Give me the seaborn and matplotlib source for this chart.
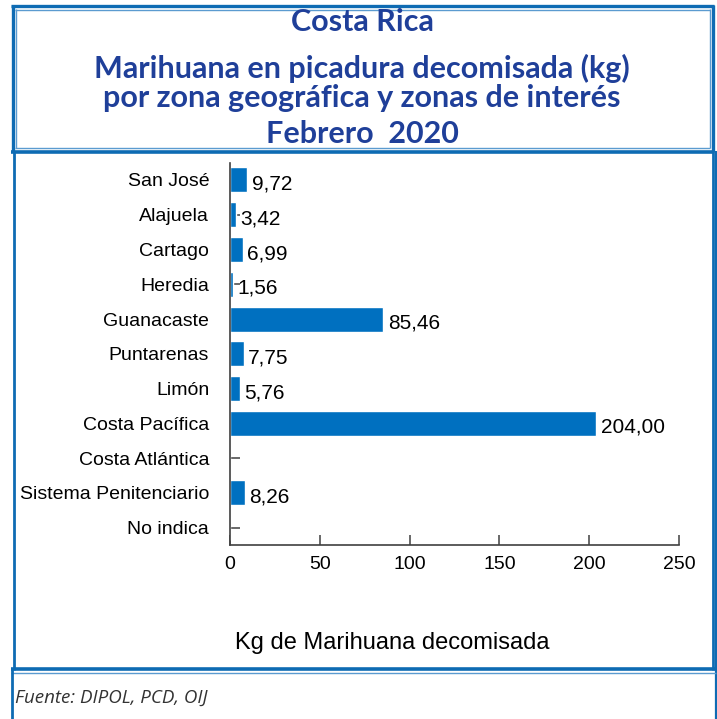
import matplotlib
matplotlib.use("Agg")
import matplotlib.pyplot as plt
from matplotlib.lines import Line2D
import seaborn as sns
import pandas as pd

categories = ["San José", "Alajuela", "Cartago", "Heredia", "Guanacaste", "Puntarenas",
              "Limón", "Costa Pacífica", "Costa Atlántica", "Sistema Penitenciario", "No indica"]
values = [9.72, 3.42, 6.99, 1.56, 85.46, 7.75, 5.76, 204.00, 0.0, 8.26, 0.0]
value_labels = ["9,72", "3,42", "6,99", "1,56", "85,46", "7,75", "5,76", "204,00", "", "8,26", ""]
xticks = [0, 50, 100, 150, 200, 250]

title_lines = ["Costa Rica", "Marihuana en picadura decomisada (kg)",
               "por zona geográfica y zonas de interés", "Febrero  2020"]
xlabel = "Kg de Marihuana decomisada"
source = "Fuente: DIPOL, PCD, OIJ"

sns.set_theme(style="white")
plt.rcParams['font.family'] = ['Liberation Sans', 'DejaVu Sans']

W, H = 717, 719
fig = plt.figure(figsize=(W / 100, H / 100), dpi=100)
fig.patch.set_facecolor("white")

ax = fig.add_axes([230 / W, 1 - 545 / H, 449 / W, (545 - 162.6) / H])
df = pd.DataFrame({"cat": categories, "val": values})
sns.barplot(data=df, x="val", y="cat", orient="h", color="#0070C0", saturation=1,
            width=0.72, ax=ax)
ax.set_xlim(0, 250)
ax.set_xticks(xticks)
ax.set_xticklabels([str(t) for t in xticks])
ax.set_ylim(len(categories) - 0.5, -0.5)
ax.set_ylabel("")
ax.set_xlabel("")
for s in ["top", "right"]:
    ax.spines[s].set_visible(False)
for s in ["left", "bottom"]:
    ax.spines[s].set_color("#404040")
    ax.spines[s].set_linewidth(1.2)
ax.tick_params(axis="x", bottom=True, direction="in", length=7, width=1.1, color="#404040",
               labelsize=14, pad=8, labelcolor="black")
ax.tick_params(axis="y", left=True, direction="in", length=7, width=1.1, color="#404040",
               labelsize=14, pad=15, labelcolor="black")

for patch, lab in zip(ax.patches, value_labels):
    if not lab:
        continue
    x = patch.get_x() + patch.get_width()
    y = patch.get_y() + patch.get_height() / 2
    ax.annotate(lab, (x, y), xytext=(3, -3), textcoords="offset points",
                ha="left", va="center", fontsize=15, color="black")

fig.text(392 / W, 1 - 643 / H, xlabel, ha="center", va="center", fontsize=17, color="black")

title_color = "#1F3F99"
title_y = [22, 68, 98, 134]
for t, yy in zip(title_lines, title_y):
    fig.text(362 / W, 1 - yy / H, t, ha="center", va="center", fontsize=22,
             fontweight="bold", color=title_color, family=["Lato", "DejaVu Sans"])

fig.text(15 / W, 1 - 698 / H, source, ha="left", va="center", fontsize=13.5,
         style="italic", color="#333333", family=["Open Sans", "DejaVu Sans"])

frame = "#0E6BB3"
light = "#5B9BD0"

def hline(x0, x1, y, lw, c):
    fig.add_artist(Line2D([x0 / W, x1 / W], [1 - y / H, 1 - y / H], lw=lw, color=c,
                          transform=fig.transFigure, solid_capstyle="butt"))

def vline(x, y0, y1, lw, c):
    fig.add_artist(Line2D([x / W, x / W], [1 - y0 / H, 1 - y1 / H], lw=lw, color=c,
                          transform=fig.transFigure, solid_capstyle="butt"))

# title box
hline(11, 714, 6, 2.4, frame)
hline(15, 710, 9.5, 1.0, light)
vline(12.5, 5, 152, 2.4, frame)
vline(15.5, 9, 148, 1.0, light)
vline(712.5, 5, 152, 2.4, frame)
vline(709.5, 9, 148, 1.0, light)
hline(15, 710, 147.5, 1.0, light)
hline(11, 714, 151.5, 2.6, frame)
# chart box
vline(13.5, 151, 670, 2.0, frame)
vline(712.5, 151, 670, 2.0, frame)
vline(715.5, 151, 719, 1.6, frame)
hline(11, 716, 669, 2.6, frame)
hline(11, 716, 672.5, 1.0, light)
# footer box
vline(11.5, 668, 719, 2.0, frame)

fig.savefig("out.png", dpi=100, facecolor="white")
